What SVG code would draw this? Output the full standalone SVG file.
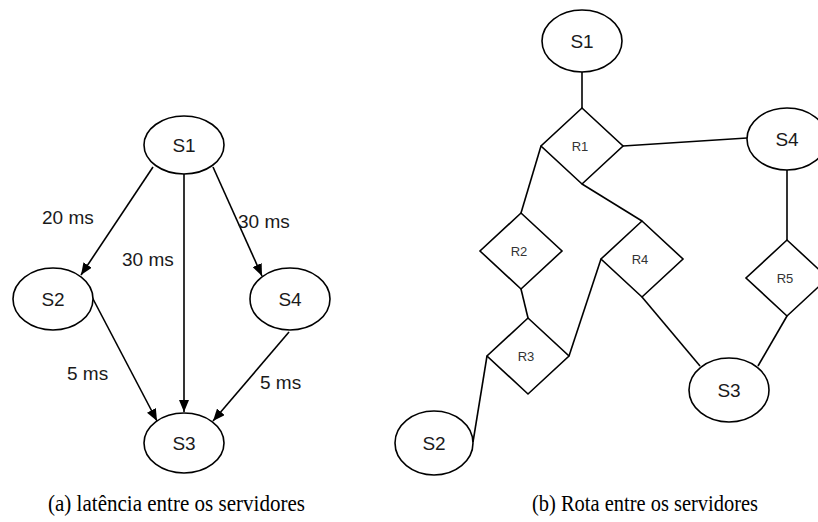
<svg xmlns="http://www.w3.org/2000/svg" width="818" height="522" viewBox="0 0 818 522">
  <style>
    .node { fill: #ffffff; stroke: #000000; stroke-width: 1.6; }
    .edge { fill: none; stroke: #000000; stroke-width: 1.6; }
    .lbl { font-family: "Liberation Sans", Arial, sans-serif; font-size: 19px; fill: #1a1a1a; }
    .nlbl { font-family: "Liberation Sans", Arial, sans-serif; font-size: 19px; fill: #1a1a1a; text-anchor: middle; }
    .rlbl { font-family: "Liberation Sans", Arial, sans-serif; font-size: 13px; fill: #333333; text-anchor: middle; }
    .cap { font-family: "Liberation Serif", "Times New Roman", serif; font-size: 23px; fill: #000000; }
  </style>
  <defs>
    <marker id="arrow" viewBox="0 0 12 10" refX="12" refY="5" markerWidth="12" markerHeight="10" markerUnits="userSpaceOnUse" orient="auto">
      <path d="M0,0 L12,5 L0,10 Z" fill="#000000"/>
    </marker>
  </defs>
  <rect width="818" height="522" fill="#ffffff"/>

  <!-- (a) latency graph: directed edges -->
  <g id="edges-a">
    <line class="edge" x1="153" y1="167" x2="81" y2="275" marker-end="url(#arrow)"/>
    <line class="edge" x1="184" y1="174" x2="184" y2="412" marker-end="url(#arrow)"/>
    <line class="edge" x1="213" y1="167" x2="262" y2="276" marker-end="url(#arrow)"/>
    <line class="edge" x1="92" y1="297" x2="157" y2="421" marker-end="url(#arrow)"/>
    <line class="edge" x1="289" y1="332" x2="213" y2="421" marker-end="url(#arrow)"/>
    <text class="lbl" x="42" y="224">20 ms</text>
    <text class="lbl" x="122" y="266">30 ms</text>
    <text class="lbl" x="238" y="228">30 ms</text>
    <text class="lbl" x="67" y="380">5 ms</text>
    <text class="lbl" x="260" y="389">5 ms</text>
  </g>

  <g id="a-S1">
    <ellipse class="node" cx="184" cy="145" rx="40" ry="29"/>
    <text class="nlbl" x="184" y="152">S1</text>
  </g>
  <g id="a-S2">
    <ellipse class="node" cx="53" cy="299" rx="40" ry="31"/>
    <text class="nlbl" x="53" y="306">S2</text>
  </g>
  <g id="a-S4">
    <ellipse class="node" cx="290" cy="299" rx="40" ry="31"/>
    <text class="nlbl" x="290" y="306">S4</text>
  </g>
  <g id="a-S3">
    <ellipse class="node" cx="184" cy="443" rx="40" ry="30"/>
    <text class="nlbl" x="184" y="450">S3</text>
  </g>

  <!-- (b) routing graph: undirected links -->
  <g id="edges-b">
    <line class="edge" x1="582" y1="72" x2="582" y2="108"/>
    <line class="edge" x1="623" y1="146" x2="747" y2="138"/>
    <line class="edge" x1="541" y1="146" x2="521" y2="213"/>
    <line class="edge" x1="582" y1="184" x2="642" y2="221"/>
    <line class="edge" x1="521" y1="289" x2="528" y2="318"/>
    <line class="edge" x1="569" y1="356" x2="601" y2="259"/>
    <line class="edge" x1="487" y1="356" x2="473" y2="442"/>
    <line class="edge" x1="642" y1="297" x2="700" y2="366"/>
    <line class="edge" x1="787" y1="170" x2="787" y2="240"/>
    <line class="edge" x1="787" y1="316" x2="758" y2="366"/>
  </g>

  <g id="b-S1">
    <ellipse class="node" cx="582" cy="41" rx="40" ry="31"/>
    <text class="nlbl" x="582" y="48">S1</text>
  </g>
  <g id="b-S4">
    <ellipse class="node" cx="787" cy="139" rx="40" ry="31"/>
    <text class="nlbl" x="787" y="146">S4</text>
  </g>
  <g id="b-S2">
    <ellipse class="node" cx="434" cy="443" rx="39" ry="32"/>
    <text class="nlbl" x="434" y="450">S2</text>
  </g>
  <g id="b-S3">
    <ellipse class="node" cx="729" cy="390" rx="40" ry="32"/>
    <text class="nlbl" x="729" y="397">S3</text>
  </g>
  <g id="b-R1">
    <polygon class="node" points="582,108 623,146 582,184 541,146"/>
    <text class="rlbl" x="580" y="151">R1</text>
  </g>
  <g id="b-R2">
    <polygon class="node" points="521,213 562,251 521,289 480,251"/>
    <text class="rlbl" x="519" y="256">R2</text>
  </g>
  <g id="b-R3">
    <polygon class="node" points="528,318 569,356 528,394 487,356"/>
    <text class="rlbl" x="526" y="361">R3</text>
  </g>
  <g id="b-R4">
    <polygon class="node" points="642,221 683,259 642,297 601,259"/>
    <text class="rlbl" x="640" y="264">R4</text>
  </g>
  <g id="b-R5">
    <polygon class="node" points="787,240 828,278 787,316 746,278"/>
    <text class="rlbl" x="785" y="283">R5</text>
  </g>

  <!-- sub-figure captions (set in a condensed serif) -->
  <text class="cap" x="48" y="511" textLength="257" lengthAdjust="spacingAndGlyphs">(a) latência entre os servidores</text>
  <text class="cap" x="532" y="511" textLength="226" lengthAdjust="spacingAndGlyphs">(b) Rota entre os servidores</text>
</svg>
